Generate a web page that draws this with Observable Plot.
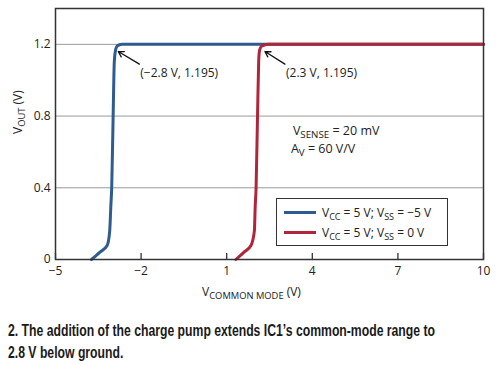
<!DOCTYPE html>
<html><head><meta charset="utf-8">
<script src="https://cdn.jsdelivr.net/npm/d3@7"></script>
<script src="https://cdn.jsdelivr.net/npm/@observablehq/plot@0.6"></script>
<style>
body{margin:0;background:#fff;}
#wrap{position:relative;width:500px;height:366px;font-family:"Open Sans",sans-serif;color:#222;overflow:hidden;}
#legend{position:absolute;left:276px;top:198px;width:170px;height:46px;border:1.5px solid #333;background:#fff;font-size:12px;}
#legend .row{position:absolute;left:7px;height:20px;line-height:20px;white-space:nowrap;}
#legend .sw{display:inline-block;width:32px;height:3px;vertical-align:middle;margin-right:6px;position:relative;top:-1px;}
#legend sub{font-size:9px;vertical-align:-3px;line-height:0;}
#caption{position:absolute;left:8px;top:320px;font-family:"Liberation Sans",Arial,sans-serif;font-weight:bold;font-size:17px;line-height:22px;color:#1a1a1a;white-space:nowrap;transform-origin:0 0;}
#caption div{display:block;}
#caption span{display:inline-block;}
</style></head>
<body>
<div id="wrap"><div id="chart"></div><div id="legend"></div><div id="caption"></div></div>
<script>
// ---- data ----
const xTicks = [-5, -2, 1, 4, 7, 10];
const yTicks = [0, 0.4, 0.8, 1.2];
const gridY = [0.4, 0.8, 1.2];
const seriesLabels = ["V_{CC} = 5 V; V_{SS} = −5 V", "V_{CC} = 5 V; V_{SS} = 0 V"];
const seriesColors = ["#2e5c91", "#b1253b"];
const blueX = [-3.74, -3.45, -3.19, -3.10, -3.06, -3.03, -2.98, -2.94, -2.90, -2.85, -2.80, -2.65, -2.4, 10];
const blueY = [0, 0.04, 0.078, 0.16, 0.3, 0.4, 0.8, 1.1, 1.165, 1.188, 1.195, 1.2, 1.2, 1.2];
const redX = [1.32, 1.60, 1.85, 1.97, 2.00, 2.03, 2.08, 2.12, 2.15, 2.21, 2.30, 2.45, 2.7, 10];
const redY = [0, 0.04, 0.078, 0.16, 0.3, 0.4, 0.8, 1.1, 1.165, 1.188, 1.195, 1.2, 1.2, 1.2];
const annText = ["(−2.8 V, 1.195)", "(2.3 V, 1.195)"];
const annX = [-2.03, 3.08];
const annY = [1.04, 1.04];
const arrowTailX = [-2.06, 3.04];
const arrowTailY = [1.09, 1.09];
const arrowTipX = [-2.8, 2.34];
const arrowTipY = [1.16, 1.16];
const noteText = ["V_{SENSE} = 20 mV", "A_{V} = 60 V/V"];
const noteX = [3.32, 3.25];
const noteY = [0.715, 0.615];
const xLabel = "V_{COMMON MODE} (V)";
const yLabel = "V_{OUT} (V)";
const captionLines = ["2. The addition of the charge pump extends IC1’s common-mode range to", "2.8 V below ground."];

// ---- build ----
const series = [
  ...blueX.map((x, i) => ({x, y: blueY[i], s: 0})),
  ...redX.map((x, i) => ({x, y: redY[i], s: 1}))
];
const arrows = arrowTailX.map((x, i) => ({x1: x, y1: arrowTailY[i], x2: arrowTipX[i], y2: arrowTipY[i]}));
const anns = annText.map((t, i) => ({t, x: annX[i], y: annY[i]}));
const notes = noteText.map((t, i) => ({t, x: noteX[i], y: noteY[i]}));

const plot = Plot.plot({
  width: 500, height: 310,
  marginTop: 8, marginLeft: 55, marginRight: 17, marginBottom: 51,
  style: {fontFamily: "'Open Sans', sans-serif", fontSize: "12px", color: "#222", background: "#fff"},
  x: {domain: [-5, 10]},
  y: {domain: [0, 1.4]},
  marks: [
    Plot.ruleY(gridY, {stroke: "#9a9a9a", strokeWidth: 1}),
    Plot.ruleX(xTicks, {insetTop: 245, stroke: "#333", strokeWidth: 1.3}),
    Plot.axisX({ticks: xTicks, tickSize: 0, tickPadding: 7, tickFormat: d => String(d).replace("-", "−"), label: null}),
    Plot.axisY({ticks: yTicks, tickSize: 0, tickPadding: 5, tickFormat: d => String(d), label: null}),
    Plot.line(series.filter(d => d.s === 0), {x: "x", y: "y", stroke: seriesColors[0], strokeWidth: 3, curve: "monotone-x"}),
    Plot.line(series.filter(d => d.s === 1), {x: "x", y: "y", stroke: seriesColors[1], strokeWidth: 3, curve: "monotone-x"}),
    Plot.frame({stroke: "#333", strokeWidth: 1.5}),
    Plot.arrow(arrows, {x1: "x1", y1: "y1", x2: "x2", y2: "y2", stroke: "#111", strokeWidth: 1.3, headLength: 7}),
    Plot.text(anns, {x: "x", y: "y", text: "t", textAnchor: "start", fontSize: 12, fill: "#222"}),
    Plot.text(notes, {x: "x", y: "y", text: "t", textAnchor: "start", fontSize: 12.5, fill: "#222"}),
    Plot.text([xLabel], {frameAnchor: "bottom", dx: -18, dy: 36, text: d => d, fontSize: 12, fill: "#222"}),
    Plot.text([yLabel], {frameAnchor: "left", dx: -37, dy: 0, rotate: -90, text: d => d, fontSize: 12, fill: "#222"})
  ]
});

// subscript handling for SVG text
function subify(root) {
  const ns = "http://www.w3.org/2000/svg";
  root.querySelectorAll("text").forEach(t => {
    const s = t.textContent;
    if (!s.includes("_{")) return;
    while (t.firstChild) t.removeChild(t.firstChild);
    const re = /_\{([^}]*)\}/g;
    let last = 0, m, shifted = false;
    const add = (str, sub) => {
      if (!str) return;
      const ts = document.createElementNS(ns, "tspan");
      ts.textContent = str;
      if (sub) { ts.setAttribute("font-size", "0.78em"); ts.setAttribute("dy", "3"); shifted = true; }
      else if (shifted) { ts.setAttribute("dy", "-3"); shifted = false; }
      t.appendChild(ts);
    };
    while ((m = re.exec(s))) { add(s.slice(last, m.index), false); add(m[1], true); last = re.lastIndex; }
    add(s.slice(last), false);
  });
}
subify(plot);
document.getElementById("chart").appendChild(plot);

// legend
const toHTML = s => s.replace(/_\{([^}]*)\}/g, "<sub>$1</sub>");
const leg = document.getElementById("legend");
seriesLabels.forEach((lab, i) => {
  const r = document.createElement("div");
  r.className = "row";
  r.style.top = (4 + i * 20) + "px";
  r.innerHTML = `<span class="sw" style="background:${seriesColors[i]}"></span>` + toHTML(lab);
  leg.appendChild(r);
});

// caption (condensed by horizontal scaling to the reference width)
const cap = document.getElementById("caption");
captionLines.forEach(line => {
  const d = document.createElement("div");
  const sp = document.createElement("span");
  sp.textContent = line;
  d.appendChild(sp);
  cap.appendChild(d);
});
const w = cap.querySelector("span").getBoundingClientRect().width;
const k = 427 / w;
cap.style.transform = `scaleX(${k})`;
</script>
</body></html>
